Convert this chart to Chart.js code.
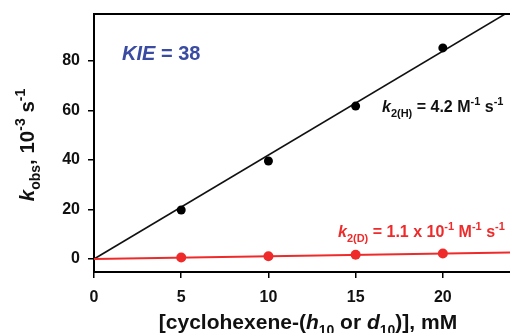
<!DOCTYPE html>
<html>
<head>
<meta charset="utf-8">
<script src="https://cdn.jsdelivr.net/npm/chart.js@4"></script>
<style>
html,body{margin:0;padding:0;background:#fff;overflow:hidden;}
#wrap{width:510px;height:333px;position:relative;}
</style>
</head>
<body>
<div id="wrap"><canvas id="c" width="510" height="333"></canvas></div>
<script>
// ---- data ----
const concH = [5, 10, 15, 20];                 // mM, cyclohexene-h10
const kobsH = [19.8, 39.6, 61.8, 85.3];        // 10^-3 s^-1
const concD = [5, 10, 15, 20];                 // mM, cyclohexene-d10
const kobsD = [0.6, 1.1, 1.7, 2.2];            // 10^-3 s^-1
const fitX  = [0, 25];                         // fitted line end points (x)
const fitH  = [0, 105];                        // k2(H) = 4.2 M^-1 s^-1
const fitD  = [0, 2.75];                       // k2(D) = 0.11 M^-1 s^-1
const xTicks = [0, 5, 10, 15, 20];
const yTicks = [0, 20, 40, 60, 80];

const pts = (xs, ys) => xs.map((x, i) => ({x: x, y: ys[i]}));
const RED = '#ee2a2a';
const BLUE = '#3a4ba2';
const FONT = '"Liberation Sans", Arial, sans-serif';

function drawRich(ctx, runs, x, y, size, color, align) {
  // runs: [text, italic, pos] pos: 0 normal, 1 sup, -1 sub
  const parts = runs.map(r => {
    const s = r[2] === 0 ? size : Math.round(size * 0.68);
    const f = (r[1] ? 'italic ' : '') + 'bold ' + s + 'px ' + FONT;
    ctx.font = f;
    return {t: r[0], f: f, w: ctx.measureText(r[0]).width, pos: r[2]};
  });
  const total = parts.reduce((a, p) => a + p.w, 0);
  let cx = align === 'center' ? x - total / 2 : (align === 'right' ? x - total : x);
  ctx.fillStyle = color;
  ctx.textBaseline = 'alphabetic';
  ctx.textAlign = 'left';
  parts.forEach(p => {
    ctx.font = p.f;
    const dy = p.pos === 1 ? -size * 0.42 : (p.pos === -1 ? size * 0.3 : 0);
    ctx.fillText(p.t, cx, y + dy);
    cx += p.w;
  });
}

const annot = {
  id: 'annot',
  afterDraw(chart) {
    const ctx = chart.ctx;
    const a = chart.chartArea;
    ctx.save();
    // top frame line
    ctx.strokeStyle = '#000';
    ctx.lineWidth = 2;
    ctx.beginPath();
    ctx.moveTo(a.left - 1, a.top);
    ctx.lineTo(a.right + 2, a.top);
    ctx.stroke();

    drawRich(ctx, [['KIE', true, 0], [' = 38', false, 0]], 122, 60, 20, BLUE, 'left');
    drawRich(ctx, [['k', true, 0], ['2(H)', false, -1], [' = 4.2 M', false, 0], ['-1', false, 1], [' s', false, 0], ['-1', false, 1]],
      382, 112, 16, '#111', 'left');
    drawRich(ctx, [['k', true, 0], ['2(D)', false, -1], [' = 1.1 x 10', false, 0], ['-1', false, 1], [' M', false, 0], ['-1', false, 1], [' s', false, 0], ['-1', false, 1]],
      338, 237, 16, RED, 'left');

    // x axis title
    drawRich(ctx, [['[cyclohexene-(', false, 0], ['h', true, 0], ['10', false, -1], [' or ', false, 0], ['d', true, 0], ['10', false, -1], [')], mM', false, 0]],
      308, 329, 21, '#111', 'center');

    // y axis title (rotated)
    ctx.translate(34, 145);
    ctx.rotate(-Math.PI / 2);
    drawRich(ctx, [['k', true, 0], ['obs', false, -1], [', 10', false, 0], ['-3', false, 1], [' s', false, 0], ['-1', false, 1]],
      0, 0, 20.5, '#111', 'center');
    ctx.restore();
  }
};

new Chart(document.getElementById('c'), {
  type: 'scatter',
  data: {
    datasets: [
      {type: 'line', data: pts(fitX, fitH), borderColor: '#111', borderWidth: 1.6, pointRadius: 0, showLine: true, order: 4},
      {type: 'line', data: pts(fitX, fitD), borderColor: RED, borderWidth: 1.8, pointRadius: 0, showLine: true, order: 3},
      {data: pts(concH, kobsH), backgroundColor: '#000', borderColor: '#000', pointRadius: 4.5, borderWidth: 0, order: 2},
      {data: pts(concD, kobsD), backgroundColor: RED, borderColor: RED, pointRadius: 5, borderWidth: 0, order: 1}
    ]
  },
  options: {
    responsive: false,
    animation: false,
    events: [],
    layout: {autoPadding: false, padding: {left: 0, right: 0, top: 14, bottom: 0}},
    plugins: {legend: {display: false}, tooltip: {enabled: false}},
    scales: {
      x: {
        type: 'linear', min: 0, max: 23.85,
        afterBuildTicks: s => { s.ticks = xTicks.map(v => ({value: v})); },
        afterFit: s => { s.height = 61; s.paddingLeft = 0; s.paddingRight = 0; },
        grid: {display: true, drawOnChartArea: false, drawTicks: true, tickLength: 6, color: '#000', lineWidth: 1.5},
        border: {display: true, color: '#000', width: 2},
        ticks: {color: '#111', padding: 10, font: {family: FONT, size: 16, weight: 'bold'}, maxRotation: 0}
      },
      y: {
        type: 'linear', min: -5.25, max: 99,
        afterBuildTicks: s => { s.ticks = yTicks.map(v => ({value: v})); },
        afterFit: s => { s.width = 94; s.paddingTop = 0; s.paddingBottom = 0; },
        grid: {display: true, drawOnChartArea: false, drawTicks: true, tickLength: 6, color: '#000', lineWidth: 1.5},
        border: {display: true, color: '#000', width: 2},
        ticks: {color: '#111', padding: 8, font: {family: FONT, size: 16, weight: 'bold'}}
      }
    }
  },
  plugins: [annot]
});
</script>
</body>
</html>
